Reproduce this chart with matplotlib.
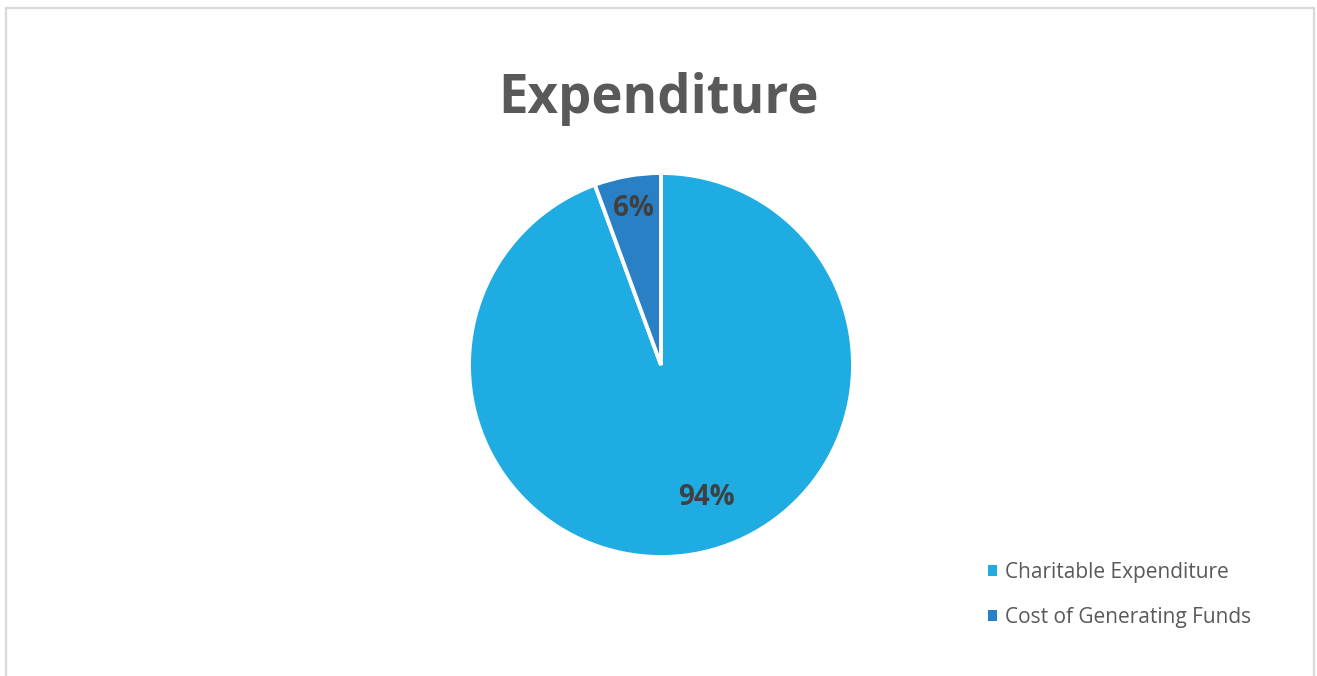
import matplotlib.pyplot as plt
import matplotlib.patches as mpatches
import numpy as np

categories = ['Charitable Expenditure', 'Cost of Generating Funds']
values = [94.4, 5.6]
colors = ['#1EACE3', '#2A80C5']

plt.rcParams['font.family'] = ['Open Sans', 'DejaVu Sans']

W, H = 1317, 676
fig = plt.figure(figsize=(W / 100, H / 100), dpi=100)

# chart border (bottom edge is cut off in the original)
border = mpatches.Rectangle((6 / W, -0.05), (1314 - 6) / W, 1 - 8 / H + 0.05,
                            transform=fig.transFigure, fill=False,
                            edgecolor='#D9D9D9', linewidth=1.6, clip_on=False)
fig.patches.append(border)

cx, cy, r = 661, 365, 192
ax = fig.add_axes([(cx - r) / W, (H - cy - r) / H, 2 * r / W, 2 * r / H])
wedges, texts, autotexts = ax.pie(values, colors=colors, startangle=90, counterclock=False,
                                  autopct='%1.0f%%', pctdistance=0.83,
                                  wedgeprops=dict(edgecolor='white', linewidth=2.8),
                                  textprops=dict(fontsize=20, fontweight='bold', color='#404040'))
ax.set_xlim(-1, 1)
ax.set_ylim(-1, 1)
ax.set_aspect('equal')
ax.axis('off')

# big slice label sits a bit further round than the wedge middle
a = np.deg2rad(-71)
autotexts[0].set_position((0.73 * np.cos(a), 0.73 * np.sin(a)))

fig.text(0.5, 1 - 99 / H, 'Expenditure', ha='center', va='center',
         fontsize=38, fontweight='bold', color='#595959')

# legend swatches without the white wedge outline
handles = [mpatches.Patch(facecolor=c, edgecolor='none') for c in colors]
fig.legend(handles, categories, loc='center left', bbox_to_anchor=(969 / W, 1 - 595 / H),
           frameon=False, fontsize=15, labelcolor='#595959',
           handlelength=0.42, handleheight=0.42, handletextpad=0.4, labelspacing=1.16)

fig.savefig('out.png', dpi=100)
